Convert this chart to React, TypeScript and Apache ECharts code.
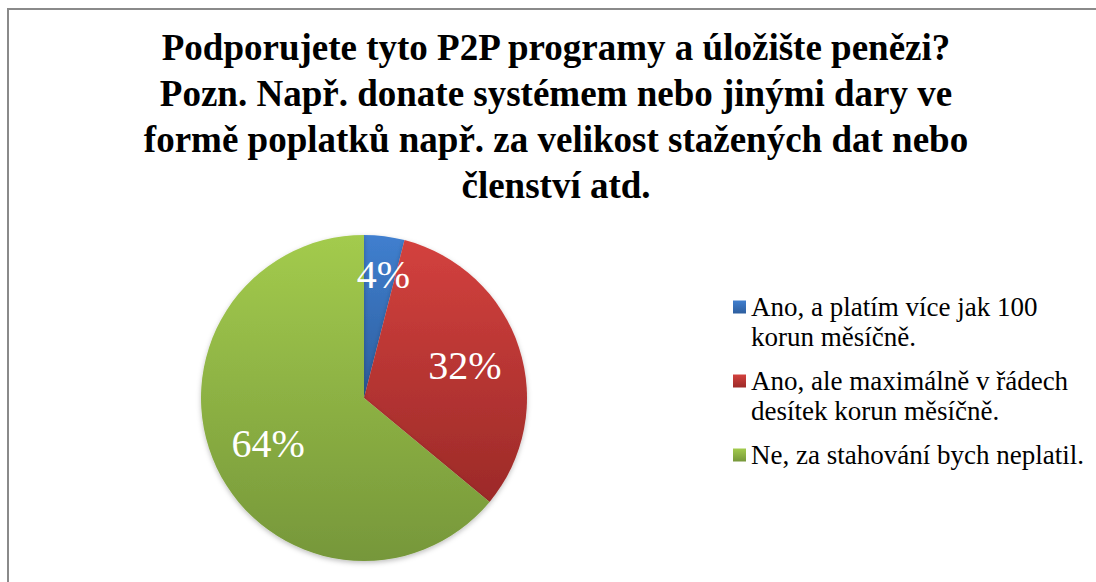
import React, { useEffect, useRef } from "react";
import * as echarts from "echarts";

const titleLines = [
  "Podporujete tyto P2P programy a úložište penězi?",
  "Pozn. Např. donate systémem nebo jinými dary ve",
  "formě poplatků např. za velikost stažených dat nebo",
  "členství atd.",
];

const categories = [
  "Ano, a platím více jak 100 korun měsíčně.",
  "Ano, ale maximálně v řádech desítek korun měsíčně.",
  "Ne, za stahování bych neplatil.",
];

const legendLines = [
  ["Ano, a platím více jak 100", "korun měsíčně."],
  ["Ano, ale maximálně v řádech", "desítek korun měsíčně."],
  ["Ne, za stahování bych neplatil.", "\u00a0"],
];

const values = [4, 32, 64];

const topColors = ["#407fcf", "#d3413e", "#a3cb4d"];
const bottomColors = ["#2d5e9e", "#9c2a28", "#76973a"];

const grad = (i: number) =>
  new echarts.graphic.LinearGradient(0, 0, 0, 1, [
    { offset: 0, color: topColors[i] },
    { offset: 1, color: bottomColors[i] },
  ]);

export default function App() {
  const ref = useRef<HTMLDivElement>(null);
  useEffect(() => {
    document.body.style.margin = "0";
    document.body.style.overflow = "hidden";
    const chart = echarts.init(ref.current!, undefined, { renderer: "svg" });
    const font = "'Liberation Serif', 'Times New Roman', serif";
    chart.setOption({
      animation: false,
      backgroundColor: "#ffffff",
      graphic: [
        {
          type: "rect",
          shape: { x: 8, y: 9, width: 1200, height: 700 },
          style: { fill: "none", stroke: "#8a8a8a", lineWidth: 2 },
          silent: true,
          z: 0,
        },
      ],
      title: {
        text: titleLines.join("\n"),
        left: "center",
        top: 24,
        padding: 0,
        textStyle: {
          fontFamily: font,
          fontWeight: "bold",
          fontSize: 37,
          lineHeight: 46,
          color: "#000",
        },
      },
      legend: {
        orient: "vertical",
        left: 733,
        top: 262,
        padding: 0,
        itemGap: -16,
        itemWidth: 13,
        itemHeight: 13,
        icon: "rect",
        selectedMode: false,
        data: categories.map((c, i) => ({ name: c, itemStyle: { color: grad(i) } })),
        formatter: (name: string) =>
          ["\u00a0", ...legendLines[categories.indexOf(name)]].join("\n"),
        textStyle: {
          fontFamily: font,
          fontSize: 27,
          lineHeight: 30,
          color: "#000",
        },
      },
      series: [
        {
          type: "pie",
          center: [364, 398],
          radius: [0, 163],
          startAngle: 90,
          clockwise: true,
          label: { show: false },
          labelLine: { show: false },
          emphasis: { disabled: true },
          itemStyle: {
            borderWidth: 0,
            shadowBlur: 5,
            shadowOffsetY: 2,
            shadowColor: "rgba(0,0,0,0.25)",
          },
          data: categories.map((c, i) => ({
            name: c,
            value: values[i],
            itemStyle: { color: grad(i) },
          })),
        },
        {
          type: "pie",
          center: [364, 398],
          radius: [60, 146],
          startAngle: 90,
          clockwise: true,
          silent: true,
          emphasis: { disabled: true },
          itemStyle: { color: "rgba(0,0,0,0)", borderWidth: 0 },
          label: {
            show: true,
            position: "inside",
            formatter: "{d}%",
            fontFamily: font,
            fontSize: 40,
            color: "#fff",
          },
          labelLayout: (p: any) => (p.dataIndex === 0 ? { dx: 6, dy: -18 } : {}),
          labelLine: { show: false },
          data: categories.map((c, i) => ({ name: c, value: values[i] })),
        },
      ],
    });
    return () => chart.dispose();
  }, []);
  return <div ref={ref} style={{ width: 1112, height: 582 }} />;
}
